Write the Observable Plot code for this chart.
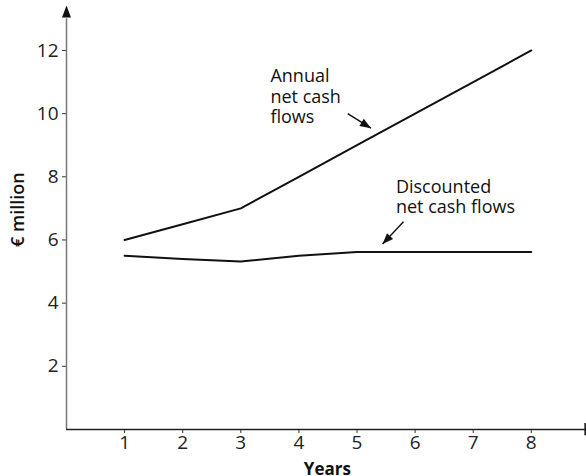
<!DOCTYPE html>
<html>
<head>
<meta charset="utf-8">
<script src="https://cdn.jsdelivr.net/npm/d3@7"></script>
<script src="https://cdn.jsdelivr.net/npm/@observablehq/plot@0.6"></script>
<style>
  html, body { margin: 0; padding: 0; background: #fff; }
  #chart svg { display: block; }
</style>
</head>
<body>
<div id="chart"></div>
<script>
// Data
const years = [1, 2, 3, 4, 5, 6, 7, 8];
const annualFlows = [6, 6.5, 7, 8, 9, 10, 11, 12];
const discountedFlows = [5.5, 5.4, 5.32, 5.5, 5.62, 5.62, 5.62, 5.62];
const xTicks = [1, 2, 3, 4, 5, 6, 7, 8];
const yTicks = [2, 4, 6, 8, 10, 12];

// Annotation labels and pointer arrows (data coordinates)
const labels = [
  {x: 3.51, y: 9.69, text: "Annual\nnet cash\nflows"},
  {x: 5.67, y: 6.84, text: "Discounted\nnet cash flows"}
];
const pointers = [
  {x1: 4.84, y1: 10.0, x2: 5.24, y2: 9.54},
  {x1: 5.80, y1: 6.58, x2: 5.44, y2: 5.87}
];

const W = 586, H = 476, ML = 66, MR = 0, MT = 7, MB = 47;
const xDomain = [0, 8.95], yDomain = [0, 13.36];
const kx = (W - ML - MR) / (xDomain[1] - xDomain[0]);
const ky = (H - MT - MB) / (yDomain[1] - yDomain[0]);

const annual = years.map((y, i) => ({year: y, value: annualFlows[i]}));
const discounted = years.map((y, i) => ({year: y, value: discountedFlows[i]}));
const heads = pointers.map(p => {
  const dxp = (p.x2 - p.x1) * kx;
  const dyp = -(p.y2 - p.y1) * ky;
  return {x: p.x2, y: p.y2, angle: Math.atan2(dxp, -dyp) * 180 / Math.PI};
});

// narrow filled arrowhead with its tip at the origin, pointing up
const arrowHead = {
  draw(context) {
    context.moveTo(0, 0);
    context.lineTo(-4.2, 11);
    context.lineTo(4.2, 11);
    context.closePath();
  }
};
const upHead = {
  draw(context) {
    context.moveTo(0, 0);
    context.lineTo(-4.5, 12);
    context.lineTo(4.5, 12);
    context.closePath();
  }
};

const font = "Open Sans";

const chart = Plot.plot({
  width: W,
  height: H,
  marginLeft: ML,
  marginRight: MR,
  marginTop: MT,
  marginBottom: MB,
  style: {fontFamily: font, fontSize: "19px", color: "#222", background: "#fff"},
  x: {domain: xDomain},
  y: {domain: yDomain},
  marks: [
    Plot.axisX({ticks: xTicks, tickSize: 4, tickPadding: 2, label: null, fontSize: 19, stroke: "#333"}),
    Plot.axisY({ticks: yTicks, tickSize: 4, tickPadding: 4, label: null, fontSize: 19, stroke: "#333"}),
    Plot.ruleX([0], {stroke: "#777", strokeWidth: 1.5, y1: 0, y2: 13.0}),
    Plot.ruleY([0], {stroke: "#222", strokeWidth: 1.5}),
    Plot.ruleX([8.93], {y1: -0.2, y2: 0.19, stroke: "#222", strokeWidth: 2}),
    Plot.dot([{x: 0, y: yDomain[1]}], {x: "x", y: "y", dy: -2, symbol: upHead, r: 5, fill: "#111", stroke: "none"}),
    Plot.line(annual, {x: "year", y: "value", stroke: "#111", strokeWidth: 2}),
    Plot.line(discounted, {x: "year", y: "value", stroke: "#111", strokeWidth: 2}),
    Plot.link(pointers, {x1: "x1", y1: "y1", x2: "x2", y2: "y2", stroke: "#111", strokeWidth: 1.4}),
    Plot.dot(heads, {x: "x", y: "y", rotate: "angle", symbol: arrowHead, r: 5, fill: "#111", stroke: "none"}),
    Plot.text(labels, {x: "x", y: "y", text: "text", textAnchor: "start", lineAnchor: "bottom", lineHeight: 1.14, fontSize: 18, fill: "#111"}),
    Plot.text(["€ million"], {x: () => 0, y: () => 6.96, dx: -48.5, rotate: -90, fontSize: 18, fontWeight: 600, fill: "#111"}),
    Plot.text(["Years"], {x: () => 4.49, frameAnchor: "bottom", dy: 45, lineAnchor: "bottom", fontSize: 17, fontWeight: 700, fill: "#111"})
  ]
});
document.getElementById("chart").appendChild(chart);
</script>
</body>
</html>
